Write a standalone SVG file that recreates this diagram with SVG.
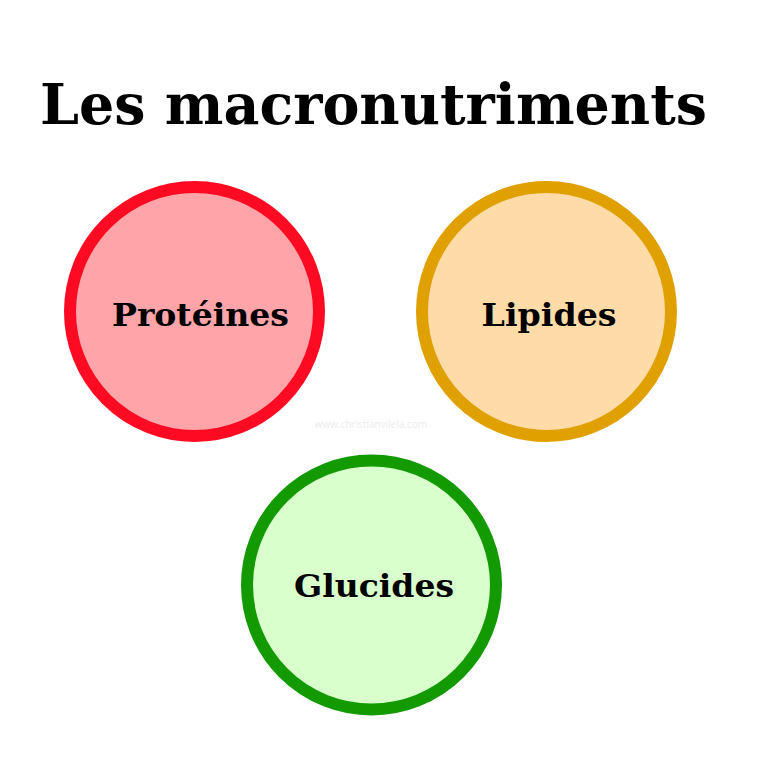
<svg xmlns="http://www.w3.org/2000/svg" width="768" height="768" viewBox="0 0 768 768">
<style>
.t{font-family:"DejaVu Serif","Liberation Serif",serif;font-weight:bold;fill:#000;text-anchor:middle}
.c{stroke-width:12}
</style>
<rect width="768" height="768" fill="#fff"/>
<text class="t" x="373.5" y="124" font-size="56" textLength="667" lengthAdjust="spacingAndGlyphs">Les macronutriments</text>
<text x="371" y="428" font-family="'Open Sans','DejaVu Sans',sans-serif" font-size="10" fill="#ececec" text-anchor="middle">www.christianvilela.com</text>
<g id="proteines">
<circle class="c" cx="194.5" cy="311.5" r="124.5" fill="#FFA5AA" stroke="#FF0A23"/>
<text class="t" x="200.5" y="326" font-size="32" textLength="177" lengthAdjust="spacingAndGlyphs">Protéines</text>
</g>
<g id="lipides">
<circle class="c" cx="546.5" cy="311.5" r="124.5" fill="#FFDBA8" stroke="#E0A000"/>
<text class="t" x="549" y="326" font-size="32" textLength="135" lengthAdjust="spacingAndGlyphs">Lipides</text>
</g>
<g id="glucides">
<circle class="c" cx="371.5" cy="585" r="124.5" fill="#D8FFCC" stroke="#129A00"/>
<text class="t" x="374" y="597" font-size="32" textLength="160" lengthAdjust="spacingAndGlyphs">Glucides</text>
</g>
<g id="connectors"/>
</svg>
